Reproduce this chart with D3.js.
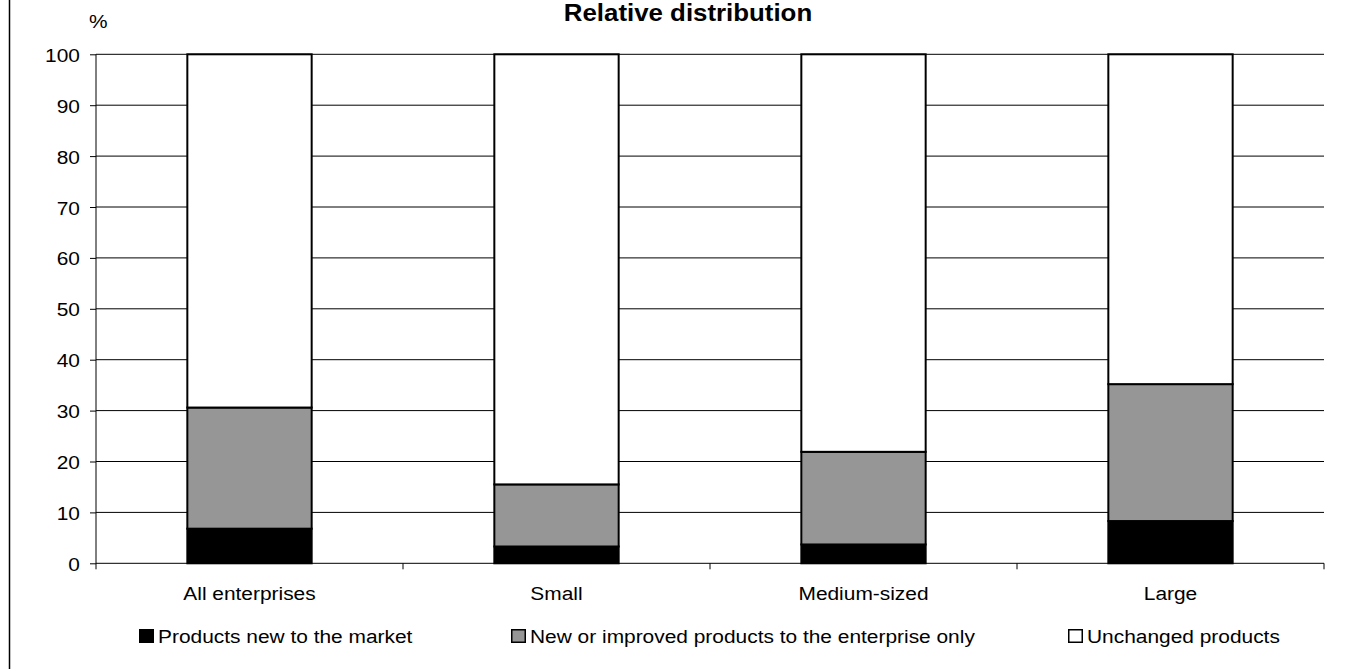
<!DOCTYPE html>
<html>
<head>
<meta charset="utf-8">
<script src="https://cdn.jsdelivr.net/npm/d3@7"></script>
<style>
  body { margin: 0; background: #fff; }
  text { font-family: "Liberation Sans", Arial, sans-serif; fill: #000; }
</style>
</head>
<body>
<svg id="chart" width="1356" height="669"></svg>
<script>
// chart values
let categories = ['All enterprises', 'Small', 'Medium-sized', 'Large'];
let seriesNames = ['Products new to the market', 'New or improved products to the enterprise only', 'Unchanged products'];
let newToMarket = [6.8, 3.3, 3.7, 8.3];
let newToEnterprise = [23.8, 12.2, 18.2, 26.9];
let unchanged = [69.4, 84.5, 78.1, 64.8];
let yTicks = [0, 10, 20, 30, 40, 50, 60, 70, 80, 90, 100];

let colors = ['#000000', '#969696', '#ffffff'];
let keys = ['a', 'b', 'c'];

let width = 1356;
let height = 669;
let plotLeft = 96, plotRight = 1324, plotTop = 54.3, plotBottom = 563.3;
let sx = 1.1; // text in the picture is a bit wider than Arial

let rows = categories.map((c, i) => ({
  cat: c, a: newToMarket[i], b: newToEnterprise[i], c: unchanged[i]
}));

let stack = d3.stack().keys(keys);
let layers = stack(rows);

let xScale = d3.scaleBand()
  .domain(categories)
  .range([plotLeft, plotRight])
  .paddingInner(0.595)
  .paddingOuter(0.2975);

let yScale = d3.scaleLinear()
  .domain([0, 100])
  .range([plotBottom, plotTop]);

const svg = d3.select('#chart');

function label(g, x, y, txt, size, anchor, bold) {
  g.append('text')
    .attr('transform', `translate(${x},${y}) scale(${sx},1)`)
    .attr('text-anchor', anchor)
    .style('font-size', size + 'px')
    .style('font-weight', bold ? 'bold' : 'normal')
    .text(txt);
}

// left edge of the chart frame
svg.append('line')
  .attr('x1', 9.5).attr('x2', 9.5)
  .attr('y1', 0).attr('y2', height)
  .attr('stroke', '#000').attr('stroke-width', 1.5);

// title and unit
label(svg, 688, 21, 'Relative distribution', 23.5, 'middle', true);
label(svg, 89, 28, '%', 19, 'start', false);

// gridlines
svg.append('g')
  .selectAll('line')
  .data(yTicks.filter(d => d > 0))
  .enter()
  .append('line')
    .attr('x1', plotLeft).attr('x2', plotRight)
    .attr('y1', d => yScale(d)).attr('y2', d => yScale(d))
    .attr('stroke', '#000').attr('stroke-width', 1);

// y axis
let yAxis = svg.append('g')
  .attr('transform', `translate(${plotLeft},0)`)
  .call(d3.axisLeft(yScale).tickValues(yTicks).tickSize(6).tickSizeOuter(0).tickFormat(d3.format('d')));
yAxis.select('.domain').attr('stroke', '#000').attr('d', `M0,${plotTop}V${plotBottom + 6}`);
yAxis.selectAll('.tick line').attr('stroke', '#000');
yAxis.selectAll('.tick text').remove();
yAxis.selectAll('.tick').each(function (d) {
  label(d3.select(this), -16, 7, String(d), 19, 'end', false);
});

// x axis baseline and boundary ticks
svg.append('line')
  .attr('x1', plotLeft).attr('x2', plotRight)
  .attr('y1', plotBottom).attr('y2', plotBottom)
  .attr('stroke', '#000');
let step = xScale.step();
let bounds = categories.map((c, i) => plotLeft + (i + 1) * step);
svg.append('g')
  .selectAll('line')
  .data(bounds)
  .enter()
  .append('line')
    .attr('x1', d => d).attr('x2', d => d)
    .attr('y1', plotBottom).attr('y2', plotBottom + 6)
    .attr('stroke', '#000');

// bars
svg.append('g')
  .selectAll('g')
  .data(layers)
  .enter()
  .append('g')
    .attr('fill', (d, i) => colors[i])
  .selectAll('rect')
  .data(d => d)
  .enter()
  .append('rect')
    .attr('x', d => xScale(d.data.cat))
    .attr('y', d => yScale(d[1]))
    .attr('height', d => yScale(d[0]) - yScale(d[1]))
    .attr('width', xScale.bandwidth())
    .attr('stroke', '#000')
    .attr('stroke-width', 2);

// category labels
categories.forEach(c => {
  label(svg, xScale(c) + xScale.bandwidth() / 2, 600, c, 19, 'middle', false);
});

// legend
let legendX = [139, 511, 1068];
seriesNames.forEach((name, i) => {
  let g = svg.append('g').attr('transform', `translate(${legendX[i]},629)`);
  g.append('rect')
    .attr('x', 0.75).attr('y', 0.75)
    .attr('width', 13.5).attr('height', 12.5)
    .attr('fill', colors[i])
    .attr('stroke', '#000').attr('stroke-width', 1.5);
  label(g, 19, 14, name, 19, 'start', false);
});
</script>
</body>
</html>
